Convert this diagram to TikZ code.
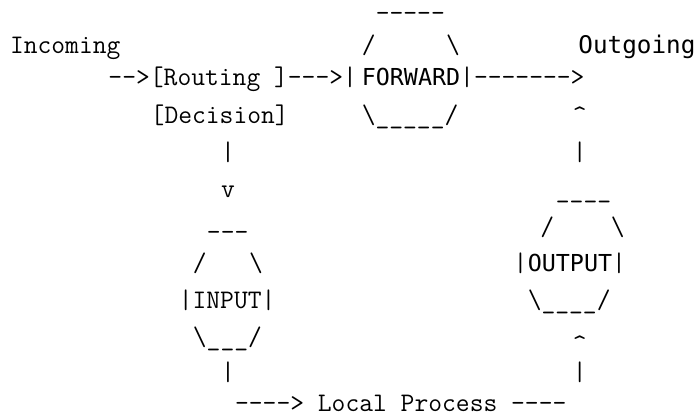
\documentclass[tikz,border=0pt]{standalone}
\usepackage{fontspec}
\newfontfamily\lmmono{Latin Modern Mono}[Ligatures=TeXOff]
\newfontfamily\djmono{DejaVu Sans Mono}[Ligatures=TeXOff]
\newcommand\gp[2]{({10+#1*14.07},{-#2})}
\begin{document}
\begin{tikzpicture}[x=1pt,y=1pt,
  t/.style={anchor=base west, inner sep=0pt, outer sep=0pt, font=\fontsize{26.8}{30}\selectfont\lmmono},
  s/.style={anchor=base west, inner sep=0pt, outer sep=0pt, font=\fontsize{23.37}{30}\selectfont\djmono},
  sl/.style={s, font=\fontsize{24.3}{30}\selectfont\djmono}]
\useasboundingbox (0,0) rectangle (699,-416);
% row 0
\node[t] (fwdtop) at \gp{26}{21} {-----};
% row 1
\node[t] (incoming) at \gp{0}{53} {Incoming};
\node[t] (fwdnw) at \gp{25}{53} {/};
\node[t] (fwdne) at \gp{31}{53} {\textbackslash};
\node[sl] (outgoing) at \gp{40.4}{53} {Outgoing};
% row 2
\node[t] (routing) at \gp{7}{85} {-->[Routing\ ]--->|};
\node[s] (forward) at \gp{25}{85} {FORWARD};
\node[t] (fwdout) at \gp{32}{85} {|------->};
% row 3
\node[t] (decision) at \gp{10}{123} {[Decision]};
\node[t] (fwdbot) at \gp{25}{123} {\textbackslash\_\_\_\_\_/};
\node[t] (upa) at \gp{40}{123} {\textasciicircum};
% row 4
\node[t] (la) at \gp{15}{160} {|};
\node[t] (ra) at \gp{40}{160} {|};
% row 5
\node[t] (down) at \gp{15}{197} {v};
\node[t] (outtop) at \gp{38.8}{197} {\_\_\_\_};
% row 6
\node[t] (intop) at \gp{14}{240} {---};
\node[t] (outnw) at \gp{37.7}{235} {/};
\node[t] (outne) at \gp{42.7}{235} {\textbackslash};
% row 7
\node[t] (innw) at \gp{13}{271} {/};
\node[t] (inne) at \gp{17}{271} {\textbackslash};
\node[t] (outbl) at \gp{35.8}{271} {|};
\node[s] (output) at \gp{36.8}{271} {OUTPUT};
\node[t] (outbr) at \gp{42.8}{271} {|};
% row 8
\node[t] (input) at \gp{12}{308} {|INPUT|};
\node[t] (outbot) at \gp{36.8}{308} {\textbackslash\_\_\_\_/};
% row 9
\node[t] (inbot) at \gp{13}{345} {\textbackslash\_\_\_/};
\node[t] (upb) at \gp{40}{352} {\textasciicircum};
% row 10
\node[t] (lb) at \gp{15}{380} {|};
\node[t] (rb) at \gp{40}{380} {|};
% row 11
\node[t] (local) at \gp{16}{411} {---->\ Local\ Process\ ----};
\end{tikzpicture}
\end{document}
